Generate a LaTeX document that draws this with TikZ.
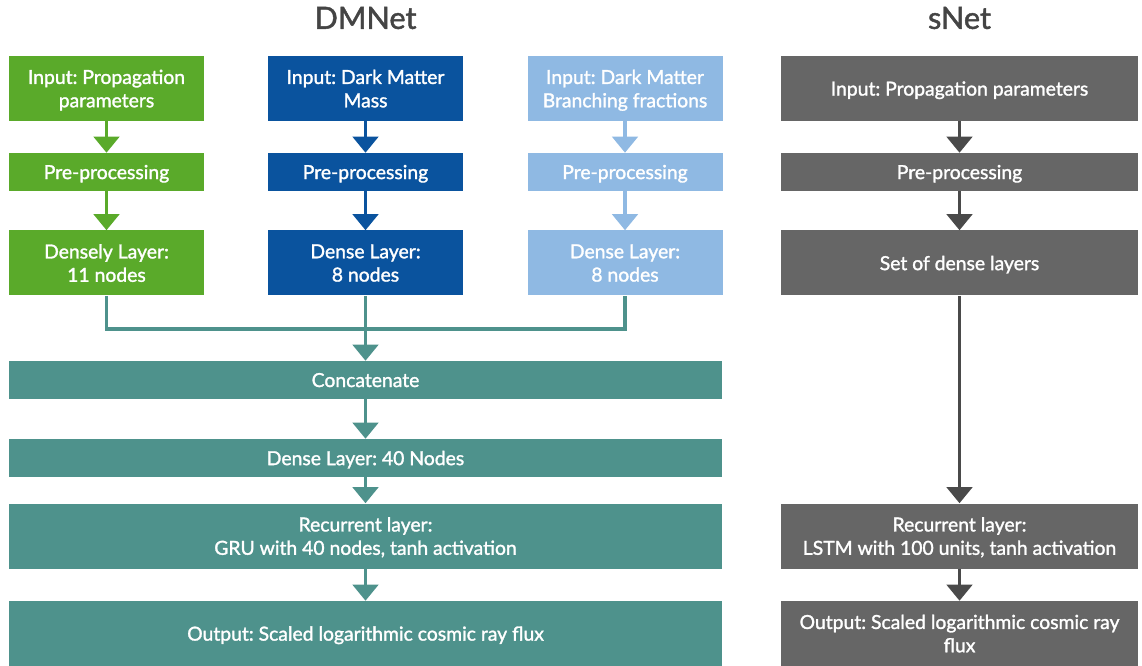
\documentclass[tikz,border=0pt]{standalone}
\usepackage{fontspec}
\setmainfont{Lato}[FakeBold=1.5]
\usetikzlibrary{arrows.meta}
\definecolor{cgreen}{HTML}{5AAA2A}
\definecolor{cblue}{HTML}{0A539E}
\definecolor{clight}{HTML}{8FB9E3}
\definecolor{cgray}{HTML}{666666}
\definecolor{cdark}{HTML}{4A4A4A}
\definecolor{cteal}{HTML}{4E928C}
\definecolor{ctitle}{HTML}{444444}
\tikzset{
  box/.style={rectangle, inner sep=0pt, text=white, align=center, text depth=0pt,
    font=\fontsize{14.5}{17.5}\selectfont},
  tall/.style={minimum height=65*0.75pt},
  short/.style={minimum height=38*0.75pt},
  narrow/.style={minimum width=195*0.75pt},
  wide/.style={minimum width=357*0.75pt},
  full/.style={minimum width=713*0.75pt},
  conn/.style={line width=2.5pt},
  arr/.style={conn, -{Triangle[width=19pt,length=12pt]}},
  ttl/.style={text=ctitle, font=\fontsize{23}{26}\selectfont}
}
\begin{document}
\frenchspacing
\begin{tikzpicture}[x=0.75pt,y=-0.75pt]
\useasboundingbox (0,0) rectangle (1142,666);
% titles
\node[ttl] (t1) at (365.5,18) {DMNet};
\node[ttl] (t2) at (959.5,18) {sNet};
% green column
\node[box,tall,narrow,fill=cgreen] (g1) at (106.5,88.5) {Input: Propagation\\parameters};
\node[box,short,narrow,fill=cgreen] (g2) at (106.5,172) {Pre-processing};
\node[box,tall,narrow,fill=cgreen] (g3) at (106.5,263) {Densely Layer:\\11 nodes};
% blue column
\node[box,tall,narrow,fill=cblue] (b1) at (365.5,88.5) {Input: Dark Matter\\Mass};
\node[box,short,narrow,fill=cblue] (b2) at (365.5,172) {Pre-processing};
\node[box,tall,narrow,fill=cblue] (b3) at (365.5,263) {Dense Layer:\\8 nodes};
% light blue column
\node[box,tall,narrow,fill=clight] (l1) at (625,88.5) {Input: Dark Matter\\Branching fractions};
\node[box,short,narrow,fill=clight] (l2) at (625,172) {Pre-processing};
\node[box,tall,narrow,fill=clight] (l3) at (625,263) {Dense Layer:\\8 nodes};
% teal
\node[box,short,full,fill=cteal] (cc) at (365.5,380) {Concatenate};
\node[box,short,full,fill=cteal] (d40) at (365.5,458) {Dense Layer: 40 Nodes};
\node[box,tall,full,fill=cteal] (gru) at (365.5,536) {Recurrent layer:\\GRU with 40 nodes, tanh activation};
\node[box,tall,full,fill=cteal] (out1) at (365.5,633.5) {Output: Scaled logarithmic cosmic ray flux};
% sNet
\node[box,tall,wide,fill=cgray] (s1) at (959.5,88.5) {Input: Propagation parameters};
\node[box,short,wide,fill=cgray] (s2) at (959.5,172) {Pre-processing};
\node[box,tall,wide,fill=cgray] (s3) at (959.5,263) {Set of dense layers};
\node[box,tall,wide,fill=cgray] (s4) at (959.5,536) {Recurrent layer:\\LSTM with 100 units, tanh activation};
\node[box,tall,wide,fill=cgray] (s5) at (959.5,633.5) {Output: Scaled logarithmic cosmic ray\\flux};
% connectors
\draw[arr,cgreen] (g1) -- (g2);
\draw[arr,cgreen] (g2) -- (g3);
\draw[arr,cblue] (b1) -- (b2);
\draw[arr,cblue] (b2) -- (b3);
\draw[arr,clight] (l1) -- (l2);
\draw[arr,clight] (l2) -- (l3);
\coordinate (j) at (365.5,329);
\draw[conn,cteal] (g3.south) |- (j) -| (l3.south);
\draw[arr,cteal] (b3) -- (cc);
\draw[arr,cteal] (cc) -- (d40);
\draw[arr,cteal] (d40) -- (gru);
\draw[arr,cteal] (gru) -- (out1);
\draw[arr,cdark] (s1) -- (s2);
\draw[arr,cdark] (s2) -- (s3);
\draw[arr,cdark] (s3) -- (s4);
\draw[arr,cdark] (s4) -- (s5);
\end{tikzpicture}
\end{document}
